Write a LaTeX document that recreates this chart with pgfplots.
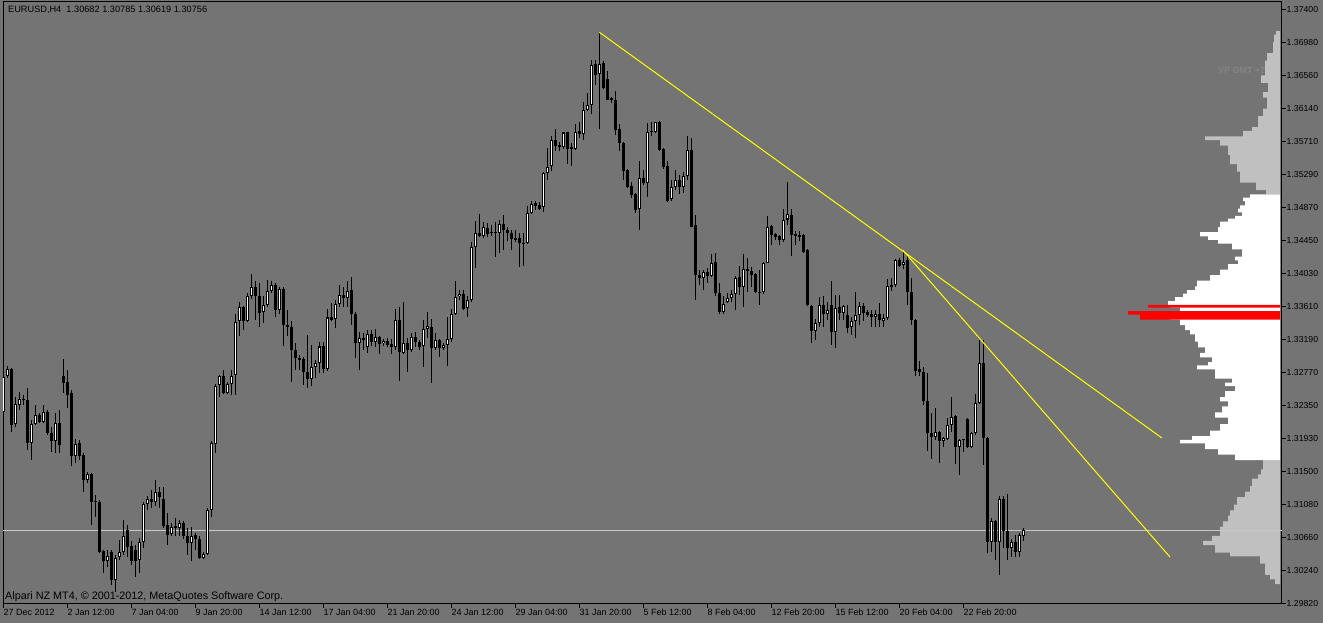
\documentclass[border=0pt]{standalone}
\usepackage{fontspec}
\setmainfont{Liberation Sans}
\usepackage{pgfplots}
\usepackage{pgfplotstable}
\pgfplotsset{compat=1.18}
\definecolor{mtbg}{RGB}{116,116,116}
\definecolor{pline}{RGB}{200,200,200}
\definecolor{vpgray}{RGB}{192,192,192}
\definecolor{vptext}{RGB}{132,132,132}
\definecolor{vpred}{RGB}{255,0,0}
\definecolor{tline}{RGB}{255,255,0}
\newcommand\mtfont{\fontsize{9}{10}\selectfont}
\newcommand\mthfont{\fontsize{9.2}{10}\selectfont}
\newcommand\mtffont{\fontsize{10.8}{12}\selectfont}
\newcommand\mtyfont{\fontsize{8.7}{10}\selectfont}

\pgfplotstableread{
i o h l c
0 1.3226 1.3278 1.3223 1.3271
1 1.3272 1.3285 1.3270 1.3281
2 1.3281 1.3282 1.3201 1.3210
3 1.3211 1.3246 1.3207 1.3237
4 1.3235 1.3252 1.3229 1.3243
5 1.3242 1.3248 1.3235 1.3243
6 1.3242 1.3257 1.3178 1.3187
7 1.3187 1.3216 1.3165 1.3211
8 1.3211 1.3235 1.3210 1.3223
9 1.3223 1.3225 1.3212 1.3214
10 1.3214 1.3235 1.3212 1.3227
11 1.3227 1.3229 1.3197 1.3200
12 1.3200 1.3207 1.3176 1.3189
13 1.3189 1.3225 1.3174 1.3213
14 1.3213 1.3229 1.3174 1.3184
15 1.3272 1.3294 1.3251 1.3264
16 1.3265 1.3280 1.3232 1.3248
17 1.3251 1.3255 1.3157 1.3170
18 1.3170 1.3192 1.3162 1.3186
19 1.3187 1.3191 1.3165 1.3170
20 1.3172 1.3174 1.3125 1.3140
21 1.3140 1.3150 1.3136 1.3147
22 1.3147 1.3149 1.3082 1.3112
23 1.3112 1.3121 1.3093 1.3113
24 1.3112 1.3114 1.3047 1.3048
25 1.3049 1.3050 1.3021 1.3036
26 1.3036 1.3050 1.3029 1.3043
27 1.3048 1.3050 1.3006 1.3012
28 1.3012 1.3044 1.2997 1.3040
29 1.3041 1.3063 1.3038 1.3048
30 1.3048 1.3089 1.3044 1.3068
31 1.3076 1.3082 1.3042 1.3054
32 1.3055 1.3062 1.3031 1.3036
33 1.3050 1.3057 1.3016 1.3036
34 1.3038 1.3066 1.3021 1.3060
35 1.3060 1.3112 1.3053 1.3109
36 1.3109 1.3119 1.3102 1.3116
37 1.3116 1.3127 1.3104 1.3112
38 1.3111 1.3140 1.3106 1.3124
39 1.3124 1.3131 1.3104 1.3118
40 1.3116 1.3131 1.3078 1.3081
41 1.3082 1.3098 1.3057 1.3070
42 1.3071 1.3085 1.3068 1.3080
43 1.3081 1.3091 1.3068 1.3078
44 1.3078 1.3089 1.3068 1.3085
45 1.3085 1.3087 1.3065 1.3068
46 1.3068 1.3078 1.3044 1.3059
47 1.3059 1.3080 1.3036 1.3068
48 1.3070 1.3072 1.3050 1.3064
49 1.3065 1.3068 1.3039 1.3040
50 1.3040 1.3048 1.3039 1.3045
51 1.3045 1.3104 1.3044 1.3102
52 1.3102 1.3189 1.3093 1.3187
53 1.3186 1.3262 1.3174 1.3260
54 1.3261 1.3274 1.3246 1.3272
55 1.3272 1.3280 1.3250 1.3251
56 1.3251 1.3265 1.3250 1.3262
57 1.3262 1.3280 1.3248 1.3272
58 1.3274 1.3352 1.3248 1.3341
59 1.3342 1.3367 1.3323 1.3360
60 1.3360 1.3362 1.3331 1.3342
61 1.3342 1.3378 1.3341 1.3374
62 1.3374 1.3403 1.3371 1.3386
63 1.3386 1.3393 1.3344 1.3374
64 1.3374 1.3391 1.3335 1.3353
65 1.3354 1.3374 1.3340 1.3363
66 1.3363 1.3395 1.3361 1.3381
67 1.3381 1.3393 1.3378 1.3389
68 1.3389 1.3391 1.3348 1.3357
69 1.3357 1.3386 1.3352 1.3383
70 1.3383 1.3386 1.3310 1.3338
71 1.3338 1.3357 1.3323 1.3335
72 1.3335 1.3342 1.3265 1.3305
73 1.3306 1.3314 1.3280 1.3295
74 1.3295 1.3299 1.3280 1.3293
75 1.3294 1.3297 1.3261 1.3278
76 1.3278 1.3325 1.3257 1.3268
77 1.3268 1.3312 1.3259 1.3284
78 1.3284 1.3293 1.3270 1.3289
79 1.3289 1.3316 1.3276 1.3310
80 1.3310 1.3316 1.3276 1.3281
81 1.3281 1.3358 1.3279 1.3347
82 1.3347 1.3365 1.3342 1.3344
83 1.3345 1.3369 1.3333 1.3364
84 1.3364 1.3389 1.3361 1.3376
85 1.3376 1.3386 1.3361 1.3372
86 1.3372 1.3393 1.3361 1.3381
87 1.3382 1.3399 1.3338 1.3352
88 1.3352 1.3354 1.3295 1.3314
89 1.3314 1.3329 1.3280 1.3321
90 1.3321 1.3327 1.3306 1.3318
91 1.3309 1.3331 1.3302 1.3326
92 1.3326 1.3331 1.3311 1.3316
93 1.3316 1.3332 1.3309 1.3322
94 1.3322 1.3323 1.3301 1.3313
95 1.3314 1.3320 1.3311 1.3317
96 1.3317 1.3321 1.3309 1.3312
97 1.3313 1.3319 1.3301 1.3309
98 1.3309 1.3358 1.3306 1.3344
99 1.3344 1.3361 1.3266 1.3303
100 1.3302 1.3367 1.3301 1.3314
101 1.3314 1.3321 1.3278 1.3306
102 1.3305 1.3327 1.3303 1.3322
103 1.3322 1.3329 1.3309 1.3316
104 1.3316 1.3318 1.3305 1.3309
105 1.3310 1.3344 1.3284 1.3332
106 1.3332 1.3354 1.3321 1.3336
107 1.3335 1.3345 1.3264 1.3308
108 1.3308 1.3327 1.3306 1.3318
109 1.3318 1.3319 1.3297 1.3308
110 1.3308 1.3314 1.3306 1.3312
111 1.3312 1.3348 1.3285 1.3319
112 1.3319 1.3358 1.3316 1.3352
113 1.3352 1.3393 1.3350 1.3373
114 1.3374 1.3382 1.3369 1.3377
115 1.3377 1.3382 1.3357 1.3358
116 1.3359 1.3374 1.3348 1.3369
117 1.3369 1.3443 1.3367 1.3437
118 1.3437 1.3470 1.3410 1.3455
119 1.3455 1.3479 1.3450 1.3451
120 1.3451 1.3469 1.3448 1.3463
121 1.3461 1.3467 1.3450 1.3454
122 1.3455 1.3465 1.3451 1.3455
123 1.3455 1.3469 1.3424 1.3456
124 1.3455 1.3472 1.3429 1.3466
125 1.3466 1.3478 1.3433 1.3458
126 1.3459 1.3463 1.3444 1.3455
127 1.3455 1.3459 1.3433 1.3447
128 1.3448 1.3459 1.3443 1.3446
129 1.3448 1.3455 1.3412 1.3442
130 1.3442 1.3455 1.3413 1.3441
131 1.3442 1.3489 1.3441 1.3480
132 1.3480 1.3495 1.3479 1.3492
133 1.3493 1.3495 1.3484 1.3489
134 1.3490 1.3494 1.3484 1.3486
135 1.3488 1.3533 1.3482 1.3531
136 1.3531 1.3563 1.3522 1.3539
137 1.3540 1.3579 1.3534 1.3574
138 1.3574 1.3587 1.3560 1.3566
139 1.3567 1.3571 1.3559 1.3565
140 1.3564 1.3584 1.3562 1.3583
141 1.3583 1.3584 1.3543 1.3562
142 1.3564 1.3570 1.3540 1.3562
143 1.3562 1.3594 1.3561 1.3584
144 1.3585 1.3597 1.3576 1.3581
145 1.3581 1.3622 1.3573 1.3612
146 1.3612 1.3634 1.3611 1.3618
147 1.3618 1.3676 1.3606 1.3669
148 1.3671 1.3676 1.3644 1.3656
149 1.3658 1.3711 1.3587 1.3671
150 1.3672 1.3674 1.3638 1.3640
151 1.3651 1.3661 1.3624 1.3625
152 1.3627 1.3628 1.3620 1.3625
153 1.3625 1.3636 1.3580 1.3586
154 1.3587 1.3594 1.3559 1.3570
155 1.3570 1.3571 1.3522 1.3534
156 1.3535 1.3536 1.3512 1.3513
157 1.3515 1.3520 1.3500 1.3503
158 1.3505 1.3506 1.3480 1.3484
159 1.3485 1.3546 1.3458 1.3525
160 1.3525 1.3535 1.3516 1.3518
161 1.3518 1.3595 1.3501 1.3584
162 1.3585 1.3597 1.3578 1.3583
163 1.3583 1.3597 1.3582 1.3596
164 1.3597 1.3598 1.3560 1.3561
165 1.3562 1.3563 1.3537 1.3539
166 1.3540 1.3546 1.3494 1.3496
167 1.3498 1.3522 1.3495 1.3514
168 1.3514 1.3535 1.3510 1.3522
169 1.3522 1.3529 1.3505 1.3513
170 1.3513 1.3533 1.3506 1.3527
171 1.3527 1.3578 1.3522 1.3561
172 1.3561 1.3576 1.3462 1.3463
173 1.3465 1.3478 1.3369 1.3401
174 1.3401 1.3407 1.3389 1.3397
175 1.3397 1.3407 1.3382 1.3405
176 1.3405 1.3410 1.3391 1.3400
177 1.3400 1.3428 1.3399 1.3417
178 1.3418 1.3429 1.3374 1.3378
179 1.3378 1.3391 1.3352 1.3354
180 1.3354 1.3374 1.3352 1.3364
181 1.3367 1.3378 1.3365 1.3372
182 1.3372 1.3382 1.3367 1.3377
183 1.3377 1.3400 1.3357 1.3397
184 1.3399 1.3413 1.3376 1.3386
185 1.3386 1.3428 1.3361 1.3409
186 1.3409 1.3423 1.3380 1.3406
187 1.3406 1.3412 1.3386 1.3401
188 1.3403 1.3404 1.3378 1.3380
189 1.3380 1.3408 1.3363 1.3378
190 1.3379 1.3418 1.3377 1.3417
191 1.3417 1.3476 1.3416 1.3463
192 1.3464 1.3465 1.3440 1.3452
193 1.3454 1.3455 1.3446 1.3450
194 1.3451 1.3452 1.3440 1.3446
195 1.3446 1.3486 1.3443 1.3472
196 1.3472 1.3520 1.3465 1.3479
197 1.3478 1.3486 1.3425 1.3452
198 1.3454 1.3457 1.3440 1.3451
199 1.3452 1.3457 1.3444 1.3450
200 1.3452 1.3454 1.3429 1.3431
201 1.3433 1.3434 1.3362 1.3363
202 1.3362 1.3363 1.3315 1.3330
203 1.3330 1.3345 1.3318 1.3340
204 1.3340 1.3373 1.3335 1.3363
205 1.3363 1.3374 1.3335 1.3352
206 1.3352 1.3367 1.3344 1.3357
207 1.3363 1.3394 1.3312 1.3328
208 1.3328 1.3376 1.3308 1.3359
209 1.3361 1.3376 1.3344 1.3353
210 1.3353 1.3363 1.3344 1.3362
211 1.3350 1.3363 1.3327 1.3333
212 1.3335 1.3348 1.3325 1.3342
213 1.3342 1.3380 1.3321 1.3350
214 1.3350 1.3367 1.3338 1.3362
215 1.3362 1.3365 1.3342 1.3353
216 1.3354 1.3357 1.3348 1.3350
217 1.3351 1.3357 1.3335 1.3348
218 1.3347 1.3357 1.3335 1.3352
219 1.3352 1.3365 1.3335 1.3344
220 1.3343 1.3351 1.3335 1.3346
221 1.3346 1.3396 1.3344 1.3387
222 1.3389 1.3397 1.3381 1.3386
223 1.3389 1.3421 1.3386 1.3420
224 1.3420 1.3423 1.3412 1.3413
225 1.3414 1.3431 1.3409 1.3418
226 1.3420 1.3425 1.3363 1.3379
227 1.3380 1.3397 1.3338 1.3344
228 1.3344 1.3345 1.3272 1.3279
229 1.3281 1.3291 1.3272 1.3277
230 1.3278 1.3284 1.3235 1.3240
231 1.3240 1.3276 1.3177 1.3199
232 1.3200 1.3225 1.3167 1.3194
233 1.3194 1.3231 1.3191 1.3201
234 1.3201 1.3202 1.3161 1.3189
235 1.3189 1.3195 1.3182 1.3193
236 1.3192 1.3219 1.3191 1.3210
237 1.3210 1.3246 1.3201 1.3220
238 1.3221 1.3223 1.3160 1.3182
239 1.3182 1.3192 1.3146 1.3191
240 1.3191 1.3192 1.3176 1.3191
241 1.3218 1.3219 1.3181 1.3182
242 1.3182 1.3201 1.3181 1.3200
243 1.3199 1.3250 1.3197 1.3238
244 1.3238 1.3318 1.3237 1.3289
245 1.3289 1.3318 1.3159 1.3193
246 1.3193 1.3194 1.3046 1.3061
247 1.3061 1.3091 1.3048 1.3087
248 1.3087 1.3089 1.3038 1.3060
249 1.3060 1.3119 1.3019 1.3116
250 1.3116 1.3119 1.3053 1.3074
251 1.3074 1.3122 1.3038 1.3053
252 1.3053 1.3065 1.3042 1.3060
253 1.3061 1.3070 1.3042 1.3048
254 1.3048 1.3072 1.3042 1.3070
255 1.30682 1.30785 1.30619 1.30756
}\candles

\pgfplotstableread{
len p
5 1.30069
10 1.30130
15 1.30188
20 1.30329
50 1.30423
65 1.30470
77 1.30565
68 1.30620
60 1.30683
57 1.30801
52 1.30870
50 1.30942
46 1.31010
43 1.31084
35 1.31178
30 1.31250
28 1.31320
22 1.31414
19 1.31470
17 1.31532
0 1.31650
}\vpbottom

\pgfplotstableread{
len p
45 1.31650
62 1.31721
75 1.31792
100 1.31863
88 1.31910
70 1.31957
60 1.32028
52 1.32110
65 1.32193
58 1.32260
52 1.32335
60 1.32400
55 1.32453
45 1.32530
55 1.32594
48 1.32640
65 1.32689
83 1.32807
72 1.32860
68 1.32901
80 1.32960
75 1.33019
82 1.33090
85 1.33161
90 1.33255
95 1.33310
100 1.33373
110 1.33444
100 1.33552
110 1.33595
112 1.33630
105 1.33680
97 1.33730
93 1.33774
85 1.33820
83 1.33868
70 1.33939
60 1.34010
52 1.34080
42 1.34151
45 1.34200
38 1.34246
48 1.34340
62 1.34411
72 1.34460
80 1.34505
62 1.34560
60 1.34623
52 1.34694
45 1.34730
38 1.34765
42 1.34810
40 1.34859
35 1.34900
37 1.34954
30 1.35000
0 1.35039
}\vpwhite

\pgfplotstableread{
len p
140 1.33444
152 1.33505
0 1.33552
132 1.33595
0 1.33630
}\vpredtab

\pgfplotstableread{
len p
14 1.35039
24 1.35095
40 1.35190
43 1.35331
50 1.35426
52 1.35544
60 1.35662
75 1.35732
37 1.35779
28 1.35850
22 1.35897
17 1.36039
13 1.36133
17 1.36275
12 1.36346
19 1.36464
15 1.36558
13 1.36747
7 1.36841
6 1.36983
4 1.37077
0 1.37124
}\vptop

\begin{document}
\begin{tikzpicture}
\useasboundingbox (0,0) rectangle (1323pt,623pt);
\fill[mtbg] (0,0) rectangle (1323pt,623pt);

% volume profile
\begin{axis}[
  at={(3pt,19.4pt)}, anchor=south west,
  scale only axis, width=1279pt, height=602pt,
  xmin=-2, xmax=1277, x dir=reverse,
  ymin=1.2982, ymax=1.375,
  hide axis,
]
\addplot[xbar interval, fill=vpgray, draw=none] table[x=len, y=p] {\vpbottom};
\addplot[xbar interval, fill=vpgray, draw=none] table[x=len, y=p] {\vptop};
\addplot[xbar interval, fill=white, draw=none] table[x=len, y=p] {\vpwhite};
\addplot[xbar interval, fill=vpred, draw=none] table[x=len, y=p] {\vpredtab};
\end{axis}

\begin{axis}[
  at={(3pt,19.4pt)}, anchor=south west,
  scale only axis, width=1279pt, height=602pt,
  xmin=-0.125, xmax=319.625,
  ymin=1.2982, ymax=1.375,
  axis line style={black, line width=1pt},
  xtick={0,16,...,240},
  xticklabels={27 Dec 2012, 2 Jan 12:00, 7 Jan 04:00, 9 Jan 20:00, 14 Jan 12:00, 17 Jan 04:00, 21 Jan 20:00, 24 Jan 12:00, 29 Jan 04:00, 31 Jan 20:00, 5 Feb 12:00, 8 Feb 04:00, 12 Feb 20:00, 15 Feb 12:00, 20 Feb 04:00, 22 Feb 20:00},
  ytick={1.374,1.3698,1.3656,1.3614,1.3571,1.3529,1.3487,1.3445,1.3403,1.3361,1.3319,1.3277,1.3235,1.3193,1.315,1.3108,1.3066,1.3024,1.2982},
  yticklabels={1.37400,1.36980,1.36560,1.36140,1.35710,1.35290,1.34870,1.34450,1.34030,1.33610,1.33190,1.32770,1.32350,1.31930,1.31500,1.31080,1.30660,1.30240,1.29820},
  xtick pos=left, ytick pos=right, yticklabel pos=right,
  tick align=outside, major tick length=4pt,
  tick style={black, line width=1pt},
  xticklabel style={anchor=north west, font=\mtfont, inner sep=1pt, xshift=-1pt},
  yticklabel style={anchor=west, font=\mtyfont, inner sep=1pt, xshift=-0.5pt},
]
% current price line
\addplot[pline, line width=1pt, forget plot] coordinates {(-0.125,1.30756) (319.625,1.30756)};
% wicks
\addplot[draw=none, mark=none, forget plot,
  error bars/.cd, y dir=plus, y explicit, error mark=none,
  error bar style={draw=black, line width=1pt}]
  table[x=i, y=l, y error expr=\thisrow{h}-\thisrow{l}] {\candles};
% bodies (black outline / bear body)
\addplot[draw=none, mark=none, forget plot,
  error bars/.cd, y dir=plus, y explicit, error mark=none,
  error bar style={draw=black, line width=3pt}]
  table[x=i, y expr={min(\thisrow{o},\thisrow{c})}, y error expr={max(abs(\thisrow{c}-\thisrow{o}),0.00013)}] {\candles};
% bull body interior
\addplot[draw=none, mark=none, forget plot,
  error bars/.cd, y dir=plus, y explicit, error mark=none,
  error bar style={draw=white, line width=1pt}]
  table[x=i, y expr={\thisrow{o}+0.00013}, y error expr={max(\thisrow{c}-\thisrow{o}-0.00026,0)}] {\candles};
% trend lines
\addplot[tline, line width=1pt] coordinates {(148.95,1.37109) (289.6,1.31933)};
\addplot[tline, line width=1pt] coordinates {(224.9,1.34325) (291.6,1.30415)};
\node[anchor=west, fill=black, text=white, font=\mtyfont, inner sep=1.5pt] at (axis cs:319.625,1.30756) [xshift=1.5pt] {1.30756};
\end{axis}

\node[anchor=west, font=\mthfont, inner sep=0pt] at (8pt,613pt) {EURUSD,H4\ \ 1.30682 1.30785 1.30619 1.30756};
\node[anchor=west, font=\mtffont, inner sep=0pt] at (5pt,26pt) {Alpari NZ MT4, © 2001-2012, MetaQuotes Software Corp.};
\node[anchor=west, font=\bfseries\mtfont, text=vptext, inner sep=0pt] at (1218pt,553pt) {VP GMT +2};
\end{tikzpicture}
\end{document}
